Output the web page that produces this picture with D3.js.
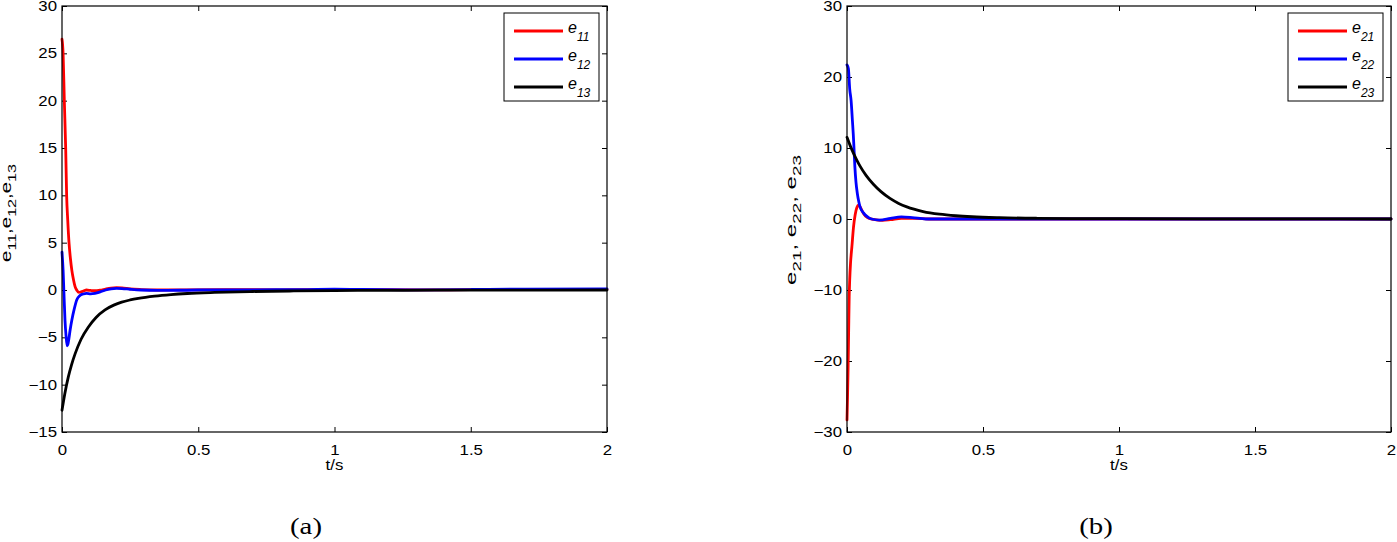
<!DOCTYPE html>
<html lang="en">
<head>
<meta charset="UTF-8">
<title>Tracking errors</title>
<script src="https://d3js.org/d3.v7.min.js"></script>
<style>
    body {
        margin: 0;
        background: #fff;
    }
    svg {
        display: block;
    }
    text {
        font-family: 'Liberation Sans', Arial, sans-serif;
        fill: #000;
    }
    .tick text {
        font-size: 14px;
    }
    .tick line {
        stroke: #000;
    }
    .domain {
        stroke: none;
    }
    .frame {
        fill: none;
        stroke: #000;
        stroke-width: 1.2px;
    }
    .curve {
        fill: none;
        stroke-width: 2.8px;
        stroke-linejoin: round;
        stroke-linecap: round;
    }
    .caption {
        font-family: 'Liberation Serif', 'Times New Roman', serif;
        font-size: 24px;
    }
</style>
</head>
<body>
<svg width="1397" height="542"></svg>
<script>
// ticks
var tTicks = [0, 0.5, 1, 1.5, 2];
var yTicksA = [-15, -10, -5, 0, 5, 10, 15, 20, 25, 30];
var yTicksB = [-30, -20, -10, 0, 10, 20, 30];

// panel (a)
var e11T = [0, 0.004, 0.0085, 0.0135, 0.017, 0.021, 0.026, 0.031, 0.036, 0.042, 0.048, 0.055, 0.062, 0.07, 0.08, 0.09, 0.105, 0.12, 0.14, 0.16, 0.18, 0.2, 0.22, 0.25, 0.29, 0.35, 0.45, 0.6, 0.8, 1.0, 1.2, 1.4, 1.6, 1.8, 2.0];
var e11V = [26.5, 25, 20, 15, 10, 7.4, 4.9, 3.3, 2.1, 1.1, 0.35, -0.05, -0.25, -0.2, -0.1, 0, -0.05, -0.08, -0.02, 0.1, 0.2, 0.25, 0.22, 0.12, 0.05, 0.0, 0.02, 0.03, 0.02, 0.04, 0.03, 0.02, 0.05, 0.05, 0.06];
var e12T = [0, 0.004, 0.008, 0.011, 0.015, 0.019, 0.022, 0.025, 0.03, 0.036, 0.045, 0.054, 0.065, 0.078, 0.09, 0.105, 0.121, 0.14, 0.16, 0.18, 0.2, 0.22, 0.25, 0.29, 0.35, 0.5, 0.7, 0.9, 1.0, 1.1, 1.3, 1.5, 1.7, 2.0];
var e12V = [4.0, 2.1, -1.0, -3.2, -4.9, -5.9, -5.7, -5.2, -4.2, -3.2, -2.0, -1.06, -0.6, -0.42, -0.35, -0.4, -0.35, -0.2, 0.0, 0.12, 0.17, 0.15, 0.08, 0.0, -0.05, 0.0, 0.02, 0.05, 0.08, 0.06, 0.02, 0.05, 0.1, 0.12];
var e13T = [0, 0.01, 0.023, 0.035, 0.048, 0.07, 0.097, 0.125, 0.158, 0.19, 0.219, 0.25, 0.28, 0.34, 0.4, 0.46, 0.56, 0.7, 0.85, 1.0, 1.25, 1.5, 2.0];
var e13V = [-12.7, -11.0, -9.2, -7.9, -6.75, -5.2, -3.9, -2.9, -2.1, -1.6, -1.28, -1.05, -0.88, -0.64, -0.48, -0.37, -0.26, -0.16, -0.1, -0.06, -0.03, -0.01, 0];

// panel (b)
var e21T = [0, 0.002, 0.004, 0.006, 0.008, 0.01, 0.013, 0.018, 0.024, 0.03, 0.036, 0.043, 0.05, 0.06, 0.075, 0.097, 0.13, 0.16, 0.2, 0.25, 0.3, 0.4, 0.6, 1.0, 1.5, 2.0];
var e21V = [-28.3, -25, -21, -16, -11, -8.5, -6.2, -3.9, -1.1, 0.6, 1.6, 1.96, 1.6, 0.8, 0.2, -0.05, -0.2, -0.1, 0.1, 0.1, 0.0, 0, 0, 0, 0, 0];
var e22T = [0, 0.005, 0.01, 0.015, 0.02, 0.023, 0.026, 0.029, 0.033, 0.038, 0.043, 0.048, 0.06, 0.072, 0.09, 0.12, 0.16, 0.2, 0.24, 0.29, 0.4, 0.6, 1.0, 1.5, 2.0];
var e22V = [21.7, 21.2, 18.3, 16.7, 13.8, 12, 9.7, 7.3, 5.2, 3.6, 2.5, 1.7, 0.9, 0.4, 0.0, -0.15, 0.1, 0.3, 0.2, 0.0, 0, 0, 0, 0, 0];
var e23T = [0, 0.012, 0.024, 0.036, 0.048, 0.07, 0.097, 0.125, 0.158, 0.19, 0.22, 0.28, 0.34, 0.4, 0.46, 0.56, 0.7, 0.85, 1.0, 1.3, 1.6, 2.0];
var e23V = [11.5, 10.3, 9.25, 8.3, 7.45, 6.15, 4.9, 3.85, 2.9, 2.2, 1.7, 1.05, 0.68, 0.46, 0.32, 0.19, 0.1, 0.06, 0.04, 0.02, 0.01, 0.0];

var svg = d3.select("svg");
var STRETCH = 1.2; // the picture's text is wider than the font

function zip(t, v) {
    return t.map(function(d, i) { return [d, v[i]]; });
}

// writes "e" + subscript pieces into a text element
function richText(sel, parts, subSize, drop) {
    var down = 0;
    parts.forEach(function(p) {
        var isSub = p[1] === 1;
        var dy = isSub ? drop - down : -down;
        down = isSub ? drop : 0;
        var ts = sel.append("tspan").text(p[0]);
        if (dy) ts.attr("dy", dy);
        if (isSub) ts.style("font-size", subSize + "px");
    });
}

function panel(o) {
    var x = d3.scaleLinear().domain([0, 2]).range([o.left, o.right]);
    var y = d3.scaleLinear().domain(o.yDomain).range([o.bottom, o.top]);
    var g = svg.append("g");

    // ticks on all four sides, pointing inward
    g.append("g").attr("transform", "translate(0," + o.bottom + ")")
        .call(d3.axisBottom(x).tickValues(tTicks).tickFormat(d3.format("")).tickSizeInner(-5).tickSizeOuter(0).tickPadding(13));
    g.append("g").attr("transform", "translate(0," + o.top + ")")
        .call(d3.axisTop(x).tickValues(tTicks).tickFormat("").tickSizeInner(-5).tickSizeOuter(0));
    g.append("g").attr("transform", "translate(" + o.left + ",0)")
        .call(d3.axisLeft(y).tickValues(o.yTicks).tickFormat(d3.format("")).tickSizeInner(-5).tickSizeOuter(0).tickPadding(5));
    g.append("g").attr("transform", "translate(" + o.right + ",0)")
        .call(d3.axisRight(y).tickValues(o.yTicks).tickFormat("").tickSizeInner(-5).tickSizeOuter(0));
    g.selectAll(".tick text").classed("stretch", true);

    var line = d3.line()
        .x(function(d) { return x(d[0]); })
        .y(function(d) { return y(d[1]); })
        .curve(d3.curveMonotoneX);

    g.selectAll(".curve")
        .data(o.series)
        .enter().append("path")
        .attr("class", "curve")
        .attr("stroke", function(d) { return d.color; })
        .attr("d", function(d) { return line(d.pts); });

    g.append("rect").attr("class", "frame")
        .attr("x", o.left).attr("y", o.top)
        .attr("width", o.right - o.left).attr("height", o.bottom - o.top);

    // legend
    var lx = o.right - 103;
    g.append("rect")
        .attr("x", lx).attr("y", 13).attr("width", 95).attr("height", 88)
        .attr("fill", "#fff").attr("stroke", "#000").attr("stroke-width", 1);
    o.series.forEach(function(s, i) {
        var ly = 31 + i * 28;
        g.append("line")
            .attr("x1", lx + 10).attr("x2", lx + 59)
            .attr("y1", ly).attr("y2", ly)
            .attr("stroke", s.color).attr("stroke-width", 3);
        var t = g.append("text")
            .attr("x", lx + 64).attr("y", ly + 2)
            .style("font-size", "16px").style("font-style", "italic");
        richText(t, [["e", 0], [s.label, 1]], 12, 8);
    });

    // axis labels
    g.append("text").attr("class", "stretch")
        .attr("x", (o.left + o.right) / 2).attr("y", 470)
        .attr("text-anchor", "middle").style("font-size", "14px")
        .text("t/s");

    var yl = g.append("text")
        .attr("transform", "translate(" + o.ylabelX + "," + o.ylabelY + ") rotate(-90)")
        .attr("text-anchor", "middle").style("font-size", "14px")
        .attr("textLength", o.ylabelLen).attr("lengthAdjust", "spacingAndGlyphs");
    richText(yl, o.ylabel, 11, 5);

    g.append("text").attr("class", "caption stretch")
        .attr("x", o.captionX).attr("y", 534)
        .attr("text-anchor", "middle")
        .text(o.caption);
}

panel({
    left: 62, right: 607, top: 6, bottom: 432,
    yDomain: [-15, 30], yTicks: yTicksA,
    series: [
        { pts: zip(e11T, e11V), color: "#ff0000", label: "11" },
        { pts: zip(e12T, e12V), color: "#0000ff", label: "12" },
        { pts: zip(e13T, e13V), color: "#000000", label: "13" }
    ],
    ylabelX: 11, ylabelY: 213, ylabelLen: 98,
    ylabel: [["e", 0], ["11", 1], [",", 0], ["e", 0], ["12", 1], [",", 0], ["e", 0], ["13", 1]],
    caption: "(a)", captionX: 306
});

panel({
    left: 847, right: 1391, top: 6, bottom: 432,
    yDomain: [-30, 30], yTicks: yTicksB,
    series: [
        { pts: zip(e21T, e21V), color: "#ff0000", label: "21" },
        { pts: zip(e22T, e22V), color: "#0000ff", label: "22" },
        { pts: zip(e23T, e23V), color: "#000000", label: "23" }
    ],
    ylabelX: 796, ylabelY: 220, ylabelLen: 130,
    ylabel: [["e", 0], ["21", 1], [", e", 0], ["22", 1], [", e", 0], ["23", 1]],
    caption: "(b)", captionX: 1096
});

// widen the horizontal labels a little, as in the picture
d3.selectAll(".stretch").each(function() {
    var w = this.getComputedTextLength();
    this.setAttribute("textLength", w * STRETCH);
    this.setAttribute("lengthAdjust", "spacingAndGlyphs");
});
</script>
</body>
</html>
